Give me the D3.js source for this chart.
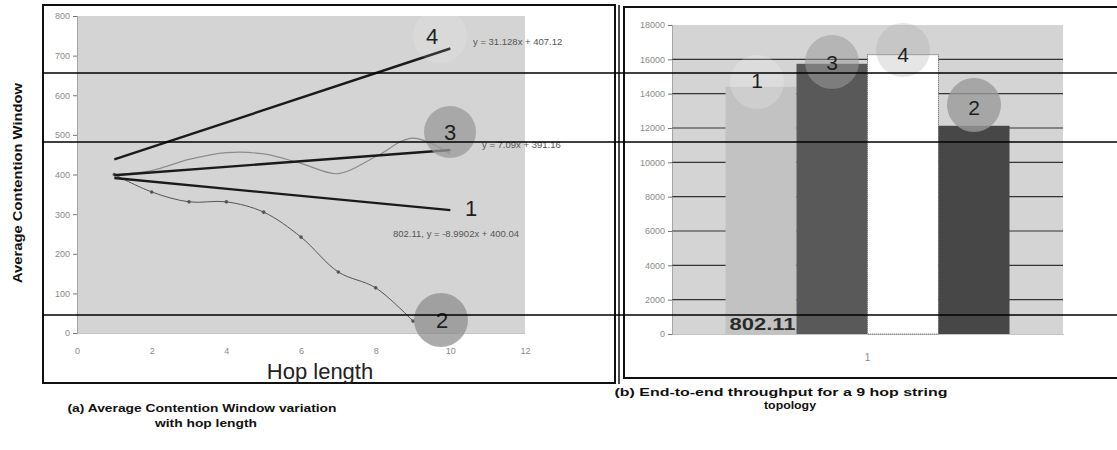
<!DOCTYPE html>
<html>
<head>
<meta charset="utf-8">
<script src="https://cdn.jsdelivr.net/npm/d3@7"></script>
<style>
  body { margin: 0; background: #fff; }
  svg { display: block; font-family: "Liberation Sans", Arial, sans-serif; }
</style>
</head>
<body>
<svg id="chart" width="1117" height="450"></svg>
<script>
// left chart data
const hops = [1, 2, 3, 4, 5, 6, 7, 8, 9, 10];
const cwCurve3 = [400, 410, 438, 455, 452, 428, 402, 445, 492, 452];
const cwCurve2 = [400, 356, 331, 331, 305, 242, 154, 114, 30];
const trendX = [1, 10];
const trend4 = [438, 718];
const trend3 = [398, 462];
const trend1 = [391, 310];
const cwTicks = [0, 100, 200, 300, 400, 500, 600, 700, 800];
const hopTicks = [0, 2, 4, 6, 8, 10, 12];

// right chart data
const categories = ["1"];
const seriesNames = ["1", "3", "4", "2"];
const throughput = [14400, 15740, 16270, 12130];
const tpTicks = [0, 2000, 4000, 6000, 8000, 10000, 12000, 14000, 16000, 18000];

const svg = d3.select("#chart");

// ---------- left panel ----------
let x = d3.scaleLinear().domain([0, 12]).range([77, 525]);
let y = d3.scaleLinear().domain([0, 800]).range([333, 16]);

svg.append("rect")
  .attr("x", 43).attr("y", 5).attr("width", 572).attr("height", 378)
  .attr("fill", "none").attr("stroke", "#111").attr("stroke-width", 2);

svg.append("rect")
  .attr("x", x(0)).attr("y", y(800)).attr("width", x(12) - x(0)).attr("height", y(0) - y(800))
  .attr("fill", "#d4d4d4");

let gy = svg.append("g")
  .attr("transform", "translate(" + x(0) + ",0)")
  .call(d3.axisLeft(y).tickValues(cwTicks).tickSize(4).tickSizeOuter(0).tickPadding(3));
gy.select(".domain").attr("stroke", "#777").attr("stroke-dasharray", "1,1");
gy.selectAll(".tick line").attr("stroke", "#777");
gy.selectAll("text").attr("fill", "#8a8a8a").style("font-size", "9px");

let gx = svg.append("g")
  .attr("transform", "translate(0," + y(0) + ")")
  .call(d3.axisBottom(x).tickValues(hopTicks).tickSize(0).tickPadding(15));
gx.select(".domain").attr("stroke", "#888").attr("stroke-dasharray", "1,1");
gx.selectAll("text").attr("fill", "#8a8a8a").style("font-size", "9px");

// data curves
let line = d3.line()
  .x(function (d) { return x(d[0]); })
  .y(function (d) { return y(d[1]); })
  .curve(d3.curveCatmullRom.alpha(0.5));

svg.append("path")
  .datum(hops.map(function (h, i) { return [h, cwCurve3[i]]; }))
  .attr("fill", "none").attr("stroke", "#8c8c8c").attr("stroke-width", 1.2)
  .attr("d", line);

let c2 = hops.slice(0, cwCurve2.length).map(function (h, i) { return [h, cwCurve2[i]]; });
svg.append("path")
  .datum(c2)
  .attr("fill", "none").attr("stroke", "#555").attr("stroke-width", 1)
  .attr("d", line);
svg.selectAll(".m2").data(c2).enter().append("circle")
  .attr("cx", function (d) { return x(d[0]); })
  .attr("cy", function (d) { return y(d[1]); })
  .attr("r", 1.8).attr("fill", "#555");

// trend lines
let straight = d3.line()
  .x(function (d) { return x(d[0]); })
  .y(function (d) { return y(d[1]); });
[trend4, trend3, trend1].forEach(function (t) {
  svg.append("path")
    .datum(trendX.map(function (h, i) { return [h, t[i]]; }))
    .attr("fill", "none").attr("stroke", "#1a1a1a").attr("stroke-width", 2.4)
    .attr("d", straight);
});

// circles and labels
svg.append("circle").attr("cx", 440).attr("cy", 36).attr("r", 27)
  .attr("fill", "#fff").attr("opacity", 0.12);
svg.append("circle").attr("cx", 450).attr("cy", 132).attr("r", 26)
  .attr("fill", "#9a9a9a").attr("opacity", 0.75);
svg.append("circle").attr("cx", 441).attr("cy", 320).attr("r", 27)
  .attr("fill", "#8f8f8f").attr("opacity", 0.75);

let bigLbl = [["4", 432, 44], ["3", 450, 140], ["1", 471, 216], ["2", 442, 328]];
bigLbl.forEach(function (l) {
  svg.append("text").attr("x", l[1]).attr("y", l[2]).attr("text-anchor", "middle")
    .style("font-size", "22px").attr("fill", "#1e1e1e").text(l[0]);
});

let eqs = [["y = 31.128x + 407.12", 473, 45], ["y = 7.09x + 391.16", 482, 148], ["802.11, y = -8.9902x + 400.04", 393, 237]];
eqs.forEach(function (e) {
  svg.append("text").attr("x", e[1]).attr("y", e[2])
    .style("font-size", "9.5px").attr("fill", "#555").text(e[0]);
});

svg.append("text").attr("x", 320).attr("y", 379).attr("text-anchor", "middle")
  .style("font-size", "22px").attr("fill", "#222").text("Hop length");

svg.append("text")
  .attr("transform", "translate(22,183) rotate(-90)")
  .attr("text-anchor", "middle")
  .attr("textLength", 200).attr("lengthAdjust", "spacingAndGlyphs")
  .style("font-size", "13px").style("font-weight", "bold").attr("fill", "#111")
  .text("Average Contention Window");

svg.append("text").attr("x", 202).attr("y", 412).attr("text-anchor", "middle")
  .attr("textLength", 269).attr("lengthAdjust", "spacingAndGlyphs")
  .style("font-size", "11.5px").style("font-weight", "bold").attr("fill", "#111")
  .text("(a) Average Contention Window variation");
svg.append("text").attr("x", 206).attr("y", 427).attr("text-anchor", "middle")
  .attr("textLength", 102).attr("lengthAdjust", "spacingAndGlyphs")
  .style("font-size", "11.5px").style("font-weight", "bold").attr("fill", "#111")
  .text("with hop length");

// ---------- right panel ----------
let y2 = d3.scaleLinear().domain([0, 18000]).range([334, 25]);
let x0 = d3.scaleBand().domain(categories).range([672, 1063]).padding(0.1585);
let x1 = d3.scaleBand().domain(seriesNames).range([0, x0.bandwidth()]);

svg.append("path")
  .attr("d", "M1117,7 H624 V378 H1117")
  .attr("fill", "none").attr("stroke", "#111").attr("stroke-width", 2);
svg.append("line").attr("x1", 619).attr("x2", 619).attr("y1", 5).attr("y2", 384)
  .attr("stroke", "#111").attr("stroke-width", 1.5);

svg.append("rect")
  .attr("x", 672).attr("y", y2(18000)).attr("width", 1063 - 672).attr("height", y2(0) - y2(18000))
  .attr("fill", "#d4d4d4");

svg.selectAll(".grid").data(tpTicks.slice(1, -1)).enter().append("line")
  .attr("x1", 672).attr("x2", 1063)
  .attr("y1", function (d) { return y2(d); }).attr("y2", function (d) { return y2(d); })
  .attr("stroke", "#333").attr("stroke-width", 1.2);

let gy2 = svg.append("g")
  .attr("transform", "translate(672,0)")
  .call(d3.axisLeft(y2).tickValues(tpTicks).tickFormat(d3.format("d")).tickSize(4).tickSizeOuter(0).tickPadding(3));
gy2.select(".domain").attr("stroke", "#777").attr("stroke-dasharray", "1,1");
gy2.selectAll(".tick line").attr("stroke", "#777");
gy2.selectAll("text").attr("fill", "#8a8a8a").style("font-size", "9px");

let gx2 = svg.append("g")
  .attr("transform", "translate(0," + y2(0) + ")")
  .call(d3.axisBottom(x0).tickSize(0).tickPadding(20));
gx2.select(".domain").attr("stroke", "#888").attr("stroke-dasharray", "1,1");
gx2.selectAll("text").attr("fill", "#8a8a8a").style("font-size", "10px");

let barFill = { "1": "#c2c2c2", "3": "#595959", "4": "#ffffff", "2": "#474747" };
svg.selectAll(".bar").data(seriesNames).enter().append("rect")
  .attr("x", function (d) { return x0("1") + x1(d); })
  .attr("y", function (d, i) { return y2(throughput[i]); })
  .attr("width", x1.bandwidth())
  .attr("height", function (d, i) { return y2(0) - y2(throughput[i]); })
  .attr("fill", function (d) { return barFill[d]; })
  .attr("stroke", function (d) { return d === "4" ? "#555" : "none"; })
  .attr("stroke-dasharray", "1,1");

// bar circles / labels
let barCirc = [["1", 82, "#fff", 0.2], ["3", 62, "#9a9a9a", 0.55], ["4", 50, "#9a9a9a", 0.25], ["2", 105, "#9a9a9a", 0.8]];
barCirc.forEach(function (c) {
  svg.append("circle")
    .attr("cx", x0("1") + x1(c[0]) + x1.bandwidth() / 2 + (c[0] === "1" ? -4 : 0))
    .attr("cy", c[1]).attr("r", 27)
    .attr("fill", c[2]).attr("opacity", c[3]);
});
let barLbl = [["1", 88], ["3", 70], ["4", 62], ["2", 115]];
barLbl.forEach(function (l) {
  svg.append("text")
    .attr("x", x0("1") + x1(l[0]) + x1.bandwidth() / 2 + (l[0] === "1" ? -4 : 0))
    .attr("y", l[1]).attr("text-anchor", "middle")
    .style("font-size", "21px").attr("fill", "#1e1e1e").text(l[0]);
});

svg.append("text").attr("x", x0("1") + x1("1") + 4).attr("y", 330)
  .attr("textLength", 66).attr("lengthAdjust", "spacingAndGlyphs")
  .style("font-size", "17px").style("font-weight", "bold").attr("fill", "#2a2a2a")
  .text("802.11");

svg.append("text").attr("x", 781).attr("y", 396).attr("text-anchor", "middle")
  .attr("textLength", 333).attr("lengthAdjust", "spacingAndGlyphs")
  .style("font-size", "11.5px").style("font-weight", "bold").attr("fill", "#111")
  .text("(b) End-to-end throughput for a 9 hop string");
svg.append("text").attr("x", 790).attr("y", 409).attr("text-anchor", "middle")
  .attr("textLength", 52).attr("lengthAdjust", "spacingAndGlyphs")
  .style("font-size", "11.5px").style("font-weight", "bold").attr("fill", "#111")
  .text("topology");

// horizontal lines across the whole figure
[73, 142, 315].forEach(function (ly) {
  svg.append("line").attr("x1", 43).attr("x2", 1117).attr("y1", ly).attr("y2", ly)
    .attr("stroke", "#000").attr("stroke-width", 1.3);
});
</script>
</body>
</html>
